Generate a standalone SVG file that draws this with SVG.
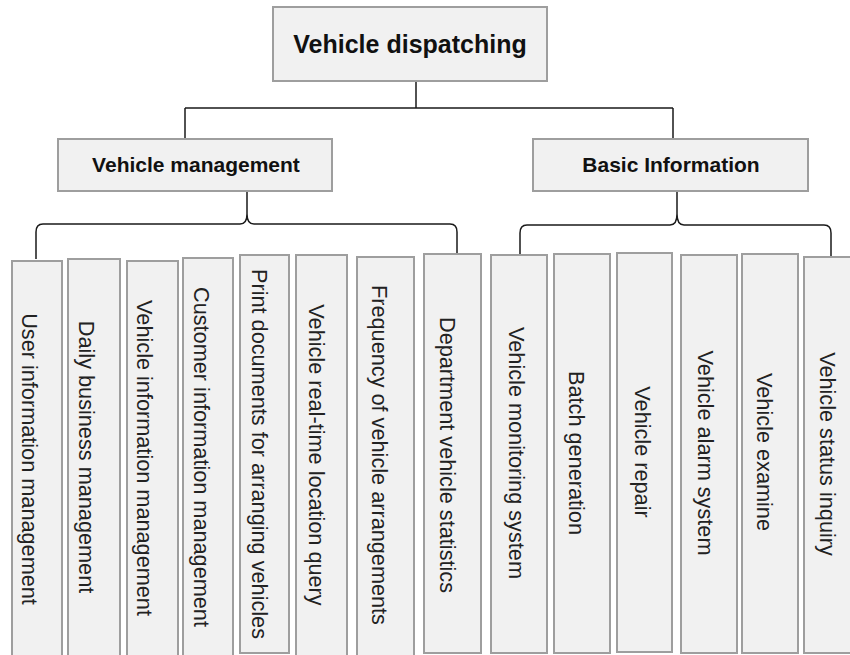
<svg xmlns="http://www.w3.org/2000/svg" width="850" height="655" viewBox="0 0 850 655">
  <style>
    .box { fill: #f1f1f1; stroke: #9e9e9e; stroke-width: 2; }
    .link { fill: none; stroke: #1a1a1a; stroke-width: 1.5; }
    .title { font-family: "Liberation Sans", Arial, sans-serif; font-weight: bold; font-size: 25px; fill: #111; text-anchor: middle; }
    .head { font-family: "Liberation Sans", Arial, sans-serif; font-weight: bold; font-size: 21px; fill: #111; text-anchor: middle; }
    .leaf { font-family: "Liberation Sans", Arial, sans-serif; font-size: 21.7px; fill: #222; text-anchor: middle; }
  </style>
  <rect width="850" height="655" fill="#ffffff"/>

  <!-- connectors -->
  <g id="connectors">
    <path class="link" d="M416,81 V108 M185,108 H673 M185,108 V139 M673,108 V139"/>
    <!-- brace under Vehicle management -->
    <path class="link" d="M247,191 V214 Q247,224 240,224 H43 Q36,224 36,232 V259 M247,214 Q247,224 254,224 H450 Q457,224 457,232 V255"/>
    <!-- brace under Basic Information -->
    <path class="link" d="M677,191 V214 Q677,225 670,225 H527 Q520,225 520,233 V256 M677,214 Q677,225 684,225 H824 Q831,225 831,233 V257"/>
  </g>

  <g id="root">
    <rect class="box" x="273" y="7" width="274" height="74"/>
    <text class="title" x="410" y="53">Vehicle dispatching</text>
  </g>

  <g id="vehicle-management">
    <rect class="box" x="58" y="139" width="274" height="52"/>
    <text class="head" x="196" y="172">Vehicle management</text>
  </g>

  <g id="basic-information">
    <rect class="box" x="533" y="139" width="275" height="52"/>
    <text class="head" x="671" y="172">Basic Information</text>
  </g>

  <g id="leaf-user-info">
    <rect class="box" x="12" y="261" width="50" height="400"/>
    <text class="leaf" x="22" y="459" transform="rotate(90 22 459)">User information management</text>
  </g>
  <g id="leaf-daily-business">
    <rect class="box" x="68" y="259" width="52" height="402"/>
    <text class="leaf" x="79" y="457" transform="rotate(90 79 457)">Daily business management</text>
  </g>
  <g id="leaf-vehicle-info">
    <rect class="box" x="127" y="261" width="51" height="400"/>
    <text class="leaf" x="137" y="458" transform="rotate(90 137 458)">Vehicle information management</text>
  </g>
  <g id="leaf-customer-info">
    <rect class="box" x="183" y="258" width="50" height="403"/>
    <text class="leaf" x="194" y="457" transform="rotate(90 194 457)">Customer information management</text>
  </g>
  <g id="leaf-print-documents">
    <rect class="box" x="240" y="255" width="49" height="398"/>
    <text class="leaf" x="252" y="454" transform="rotate(90 252 454)">Print documents for arranging vehicles</text>
  </g>
  <g id="leaf-location-query">
    <rect class="box" x="296" y="255" width="51" height="406"/>
    <text class="leaf" x="309" y="455" transform="rotate(90 309 455)">Vehicle real-time location query</text>
  </g>
  <g id="leaf-frequency">
    <rect class="box" x="357" y="257" width="57" height="404"/>
    <text class="leaf" x="372" y="455" transform="rotate(90 372 455)">Frequency of vehicle arrangements</text>
  </g>
  <g id="leaf-department-stats">
    <rect class="box" x="424" y="254" width="57" height="399"/>
    <text class="leaf" x="440" y="455" transform="rotate(90 440 455)">Department vehicle statistics</text>
  </g>

  <g id="leaf-monitoring">
    <rect class="box" x="491" y="255" width="56" height="398"/>
    <text class="leaf" x="509" y="453" transform="rotate(90 509 453)">Vehicle monitoring system</text>
  </g>
  <g id="leaf-batch">
    <rect class="box" x="554" y="254" width="56" height="399"/>
    <text class="leaf" x="569" y="453" transform="rotate(90 569 453)">Batch generation</text>
  </g>
  <g id="leaf-repair">
    <rect class="box" x="617" y="253" width="55" height="399"/>
    <text class="leaf" x="635" y="452" transform="rotate(90 635 452)">Vehicle repair</text>
  </g>
  <g id="leaf-alarm">
    <rect class="box" x="681" y="255" width="56" height="398"/>
    <text class="leaf" x="698" y="453" transform="rotate(90 698 453)">Vehicle alarm system</text>
  </g>
  <g id="leaf-examine">
    <rect class="box" x="742" y="254" width="56" height="399"/>
    <text class="leaf" x="757" y="452" transform="rotate(90 757 452)">Vehicle examine</text>
  </g>
  <g id="leaf-status">
    <rect class="box" x="804" y="257" width="52" height="396"/>
    <text class="leaf" x="820" y="454" transform="rotate(90 820 454)">Vehicle status inquiry</text>
  </g>
</svg>
